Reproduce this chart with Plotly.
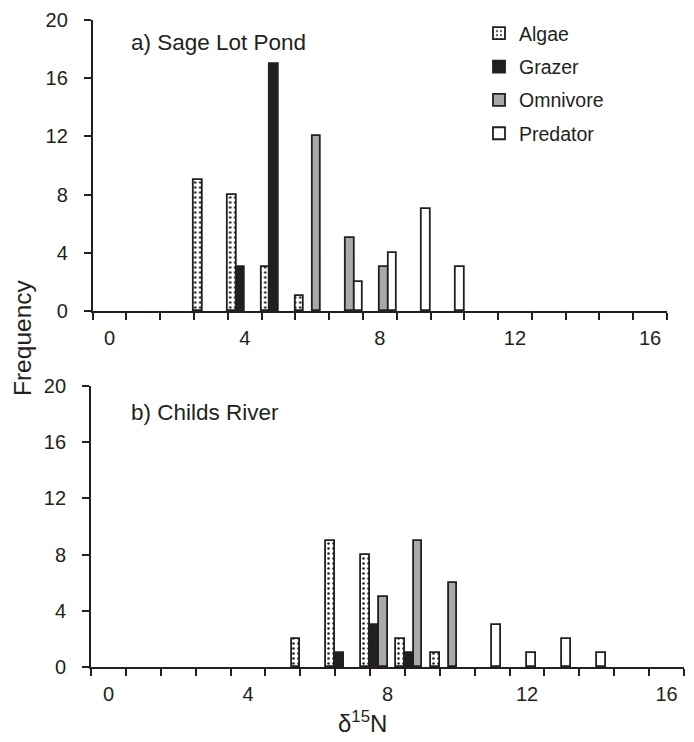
import plotly.graph_objects as go

# ---- data ----
d15n_bins = list(range(17))          # delta 15N bins (category axis 0..16)
tick_labels = ["0", "4", "8", "12", "16"]
tick_bins = [0, 4, 8, 12, 16]
series_names = ["Algae", "Grazer", "Omnivore", "Predator"]

# a) Sage Lot Pond
sage_algae    = [0, 0, 0, 9, 8, 3, 1, 0, 0, 0, 0, 0, 0, 0, 0, 0, 0]
sage_grazer   = [0, 0, 0, 0, 3, 17, 0, 0, 0, 0, 0, 0, 0, 0, 0, 0, 0]
sage_omnivore = [0, 0, 0, 0, 0, 0, 12, 5, 3, 0, 0, 0, 0, 0, 0, 0, 0]
sage_predator = [0, 0, 0, 0, 0, 0, 0, 2, 4, 7, 3, 0, 0, 0, 0, 0, 0]

# b) Childs River
childs_algae    = [0, 0, 0, 0, 0, 0, 2, 9, 8, 2, 1, 0, 0, 0, 0, 0, 0]
childs_grazer   = [0, 0, 0, 0, 0, 0, 0, 1, 3, 1, 0, 0, 0, 0, 0, 0, 0]
childs_omnivore = [0, 0, 0, 0, 0, 0, 0, 0, 5, 9, 6, 0, 0, 0, 0, 0, 0]
childs_predator = [0, 0, 0, 0, 0, 0, 0, 0, 0, 0, 0, 3, 1, 2, 1, 0, 0]

y_ticks = [0, 4, 8, 12, 16, 20]

# ---- layout helpers (pixel -> paper) ----
W, H = 694, 742
ML, MR, MT, MB = 10, 5, 5, 5
PW, PH = W - ML - MR, H - MT - MB

def px_x(px):
    return (px - ML) / PW

def px_y(py):
    return (H - MB - py) / PH

INK = "#231f20"
FONT = "Liberation Sans, Arial, Helvetica, sans-serif"
styles = {
    "Algae": dict(color="white", pattern=dict(shape=".", fgcolor=INK, bgcolor="white",
                                               size=5, solidity=0.2, fillmode="replace")),
    "Grazer": dict(color=INK),
    "Omnivore": dict(color="#a7a9ac"),
    "Predator": dict(color="white"),
}

fig = go.Figure()

def add_panel(series, xa, ya, offsets, show_legend):
    for name, vals, off in zip(series_names, series, offsets):
        xs = [b for b, v in zip(d15n_bins, vals) if v]
        ys = [v for v in vals if v]
        m = dict(styles[name])
        m["line"] = dict(color=INK, width=1.8)
        fig.add_trace(go.Bar(
            x=xs, y=ys, name=name, marker=m, width=0.25, offset=off,
            xaxis=xa, yaxis=ya, showlegend=show_legend, legendgroup=name,
        ))

add_panel([sage_algae, sage_grazer, sage_omnivore, sage_predator], "x", "y",
          [-0.5, -0.25, 0.0, 0.25], True)
add_panel([childs_algae, childs_grazer, childs_omnivore, childs_predator], "x2", "y2",
          [-0.75, -0.5, -0.25, 0.0], False)

def xaxis_cfg(x0, x1, anchor):
    return dict(
        domain=[px_x(x0), px_x(x1)], anchor=anchor, range=[-0.5, 16.5],
        tickmode="array", tickvals=tick_bins, ticktext=tick_labels,
        ticks="", showgrid=False, zeroline=False,
        showline=True, linecolor=INK, linewidth=1.8,
        tickfont=dict(family=FONT, size=20, color=INK),
        ticklabelstandoff=8,
        minor=dict(tickmode="linear", tick0=-0.5, dtick=1, ticks="outside",
                   ticklen=7, tickwidth=1.8, tickcolor=INK, showgrid=False),
        fixedrange=True,
    )

def yaxis_cfg(y_top, y_bot, anchor):
    return dict(
        domain=[px_y(y_bot), px_y(y_top)], anchor=anchor, range=[0, 20],
        tickmode="array", tickvals=y_ticks,
        ticks="outside", ticklen=7, tickwidth=1.8, tickcolor=INK,
        showgrid=False, zeroline=False,
        showline=True, linecolor=INK, linewidth=1.8,
        tickfont=dict(family=FONT, size=20, color=INK),
        ticklabelstandoff=12,
        fixedrange=True,
    )

fig.update_layout(
    width=W, height=H,
    margin=dict(l=ML, r=MR, t=MT, b=MB, autoexpand=False),
    paper_bgcolor="white", plot_bgcolor="white",
    barmode="group", bargap=0, bargroupgap=0,
    xaxis=xaxis_cfg(92.7, 667, "y"),
    yaxis=yaxis_cfg(20, 311, "x"),
    xaxis2=xaxis_cfg(91, 684, "y2"),
    yaxis2=yaxis_cfg(386, 667, "x2"),
    legend=dict(
        x=px_x(479), y=px_y(14), xanchor="left", yanchor="top",
        font=dict(family=FONT, size=19.5, color=INK),
        bgcolor="rgba(0,0,0,0)", traceorder="grouped", tracegroupgap=5,
        itemwidth=30,
    ),
    font=dict(family=FONT, color=INK),
    showlegend=True,
)

anns = [
    dict(text="a) Sage Lot Pond", x=px_x(129), y=px_y(42), xanchor="left", yanchor="middle",
         font=dict(size=22.5)),
    dict(text="b) Childs River", x=px_x(129), y=px_y(412), xanchor="left", yanchor="middle",
         font=dict(size=22.5)),
    dict(text="Frequency", x=px_x(22), y=px_y(338), xanchor="center", yanchor="middle",
         textangle=-90, font=dict(size=24.5)),
    dict(text="δ<sup>15</sup>N", x=px_x(362), y=px_y(722), xanchor="center", yanchor="middle",
         font=dict(size=24)),
]
for a in anns:
    a.update(xref="paper", yref="paper", showarrow=False)
    a["font"].update(family=FONT, color=INK)
    fig.add_annotation(**a)

fig.write_html("out.html", config={"displayModeBar": False},
               post_script="document.body.style.margin='0px';")
